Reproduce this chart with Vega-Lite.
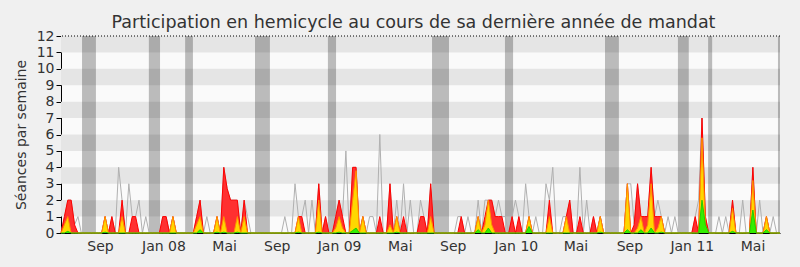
{
"$schema": "https://vega.github.io/schema/vega-lite/v6.json",
"autosize": {"type": "none"},
"width": 719,
"height": 197,
"padding": {"left": 61, "top": 36, "right": 20, "bottom": 34},
"background": "#f0f0f0",
"title": {"text": "Participation en hemicycle au cours de sa dernière année de mandat", "font": "DejaVu Sans", "fontSize": 17.5, "fontWeight": "normal", "color": "#333333", "anchor": "middle", "baseline": "alphabetic", "offset": -16, "dx": -7},
"config": {
  "view": {"fill": "#fafafa", "stroke": null},
  "font": "DejaVu Sans",
  "axisY": {"labelOverlap": false, "labelBound": false, "labelFlush": false, "grid": false, "domainColor": "#000000", "tickColor": "#000000", "tickSize": 5, "labelFontSize": 14, "labelColor": "#333333", "labelPadding": 2, "titleFontSize": 14, "titleFontWeight": "normal", "titleColor": "#333333", "titlePadding": 8, "zindex": 1},
  "axisX": {"labelOverlap": false, "grid": false, "ticks": false, "domainColor": "#000000", "labelFontSize": 14, "labelColor": "#333333", "labelPadding": 6, "zindex": 1}
},
"datasets": {
"bandes": [{"bas":1,"haut":2},{"bas":3,"haut":4},{"bas":5,"haut":6},{"bas":7,"haut":8},{"bas":9,"haut":10},{"bas":11,"haut":12}],
"sommet": [{"niveau": 12}],
"vacances": [{"debut":6.2,"fin":10.3},{"debut":25.9,"fin":29.2},{"debut":36.6,"fin":38.9},{"debut":57.2,"fin":61.6},{"debut":78.7,"fin":81.1},{"debut":109.4,"fin":114.4},{"debut":130.9,"fin":133.3},{"debut":160.4,"fin":164.5},{"debut":181.9,"fin":185.1},{"debut":190.8,"fin":192},{"debut":211.4,"fin":212}],
"semaines": [
{"sem":0,"seances":0,"pres":0,"part":0,"interv":0},
{"sem":1,"seances":1,"pres":1,"part":0.5,"interv":0},
{"sem":2,"seances":2,"pres":2,"part":1,"interv":0.1},
{"sem":3,"seances":2,"pres":2,"part":0,"interv":0},
{"sem":4,"seances":0.5,"pres":0.5,"part":0,"interv":0},
{"sem":5,"seances":1,"pres":0,"part":0,"interv":0},
{"sem":6,"seances":0,"pres":0,"part":0,"interv":0},
{"sem":7,"seances":0,"pres":0,"part":0,"interv":0},
{"sem":8,"seances":0,"pres":0,"part":0,"interv":0},
{"sem":9,"seances":0,"pres":0,"part":0,"interv":0},
{"sem":10,"seances":0,"pres":0,"part":0,"interv":0},
{"sem":11,"seances":0,"pres":0,"part":0,"interv":0},
{"sem":12,"seances":0,"pres":0,"part":0,"interv":0},
{"sem":13,"seances":1,"pres":1,"part":1,"interv":0.05},
{"sem":14,"seances":0,"pres":0,"part":0,"interv":0},
{"sem":15,"seances":1,"pres":1,"part":0,"interv":0},
{"sem":16,"seances":0,"pres":0,"part":0,"interv":0},
{"sem":17,"seances":4,"pres":0,"part":0,"interv":0},
{"sem":18,"seances":2,"pres":2,"part":1,"interv":0},
{"sem":19,"seances":0,"pres":0,"part":0,"interv":0},
{"sem":20,"seances":3,"pres":0,"part":0,"interv":0},
{"sem":21,"seances":1,"pres":1,"part":0,"interv":0},
{"sem":22,"seances":1,"pres":1,"part":0,"interv":0},
{"sem":23,"seances":2,"pres":0,"part":0,"interv":0},
{"sem":24,"seances":0,"pres":0,"part":0,"interv":0},
{"sem":25,"seances":1,"pres":0,"part":0,"interv":0},
{"sem":26,"seances":0,"pres":0,"part":0,"interv":0},
{"sem":27,"seances":0,"pres":0,"part":0,"interv":0},
{"sem":28,"seances":0,"pres":0,"part":0,"interv":0},
{"sem":29,"seances":0,"pres":0,"part":0,"interv":0},
{"sem":30,"seances":1,"pres":1,"part":0,"interv":0},
{"sem":31,"seances":1,"pres":1,"part":0,"interv":0},
{"sem":32,"seances":0,"pres":0,"part":0,"interv":0},
{"sem":33,"seances":1,"pres":1,"part":1,"interv":0},
{"sem":34,"seances":0,"pres":0,"part":0,"interv":0},
{"sem":35,"seances":0,"pres":0,"part":0,"interv":0},
{"sem":36,"seances":0,"pres":0,"part":0,"interv":0},
{"sem":37,"seances":0,"pres":0,"part":0,"interv":0},
{"sem":38,"seances":0,"pres":0,"part":0,"interv":0},
{"sem":39,"seances":0,"pres":0,"part":0,"interv":0},
{"sem":40,"seances":1,"pres":1,"part":0.5,"interv":0},
{"sem":41,"seances":2,"pres":2,"part":1,"interv":0.2},
{"sem":42,"seances":0,"pres":0,"part":0,"interv":0},
{"sem":43,"seances":1,"pres":0,"part":0,"interv":0},
{"sem":44,"seances":0,"pres":0,"part":0,"interv":0},
{"sem":45,"seances":0,"pres":0,"part":0,"interv":0},
{"sem":46,"seances":1,"pres":1,"part":1,"interv":0.05},
{"sem":47,"seances":0,"pres":0,"part":0,"interv":0},
{"sem":48,"seances":4,"pres":4,"part":1,"interv":0.05},
{"sem":49,"seances":2.7,"pres":2.7,"part":0,"interv":0},
{"sem":50,"seances":2,"pres":2,"part":0,"interv":0},
{"sem":51,"seances":2,"pres":2,"part":0,"interv":0},
{"sem":52,"seances":2,"pres":2,"part":1,"interv":0.05},
{"sem":53,"seances":0,"pres":0,"part":0,"interv":0},
{"sem":54,"seances":2,"pres":2,"part":1,"interv":0},
{"sem":55,"seances":1,"pres":0,"part":0,"interv":0},
{"sem":56,"seances":0,"pres":0,"part":0,"interv":0},
{"sem":57,"seances":0,"pres":0,"part":0,"interv":0},
{"sem":58,"seances":0,"pres":0,"part":0,"interv":0},
{"sem":59,"seances":0,"pres":0,"part":0,"interv":0},
{"sem":60,"seances":0,"pres":0,"part":0,"interv":0},
{"sem":61,"seances":0,"pres":0,"part":0,"interv":0},
{"sem":62,"seances":0,"pres":0,"part":0,"interv":0},
{"sem":63,"seances":0,"pres":0,"part":0,"interv":0},
{"sem":64,"seances":0,"pres":0,"part":0,"interv":0},
{"sem":65,"seances":0,"pres":0,"part":0,"interv":0},
{"sem":66,"seances":1,"pres":0,"part":0,"interv":0},
{"sem":67,"seances":0,"pres":0,"part":0,"interv":0},
{"sem":68,"seances":0,"pres":0,"part":0,"interv":0},
{"sem":69,"seances":3,"pres":0,"part":0,"interv":0},
{"sem":70,"seances":1,"pres":1,"part":1,"interv":0.05},
{"sem":71,"seances":1,"pres":1,"part":0,"interv":0},
{"sem":72,"seances":2,"pres":0,"part":0,"interv":0},
{"sem":73,"seances":0,"pres":0,"part":0,"interv":0},
{"sem":74,"seances":2,"pres":0,"part":0,"interv":0},
{"sem":75,"seances":0,"pres":0,"part":0,"interv":0},
{"sem":76,"seances":3,"pres":3,"part":2,"interv":0.05},
{"sem":77,"seances":0,"pres":0,"part":0,"interv":0},
{"sem":78,"seances":1,"pres":1,"part":0,"interv":0},
{"sem":79,"seances":0,"pres":0,"part":0,"interv":0},
{"sem":80,"seances":0,"pres":0,"part":0,"interv":0},
{"sem":81,"seances":1,"pres":1,"part":0.3,"interv":0},
{"sem":82,"seances":2,"pres":2,"part":1,"interv":0.05},
{"sem":83,"seances":1,"pres":1,"part":0.3,"interv":0},
{"sem":84,"seances":5,"pres":0,"part":0,"interv":0},
{"sem":85,"seances":0,"pres":0,"part":0,"interv":0},
{"sem":86,"seances":4,"pres":4,"part":2,"interv":0.15},
{"sem":87,"seances":4,"pres":4,"part":3.8,"interv":0.3},
{"sem":88,"seances":0,"pres":0,"part":0,"interv":0},
{"sem":89,"seances":1,"pres":1,"part":1,"interv":0},
{"sem":90,"seances":0,"pres":0,"part":0,"interv":0},
{"sem":91,"seances":1,"pres":0,"part":0,"interv":0},
{"sem":92,"seances":1,"pres":0,"part":0,"interv":0},
{"sem":93,"seances":0,"pres":0,"part":0,"interv":0},
{"sem":94,"seances":6,"pres":1,"part":0,"interv":0},
{"sem":95,"seances":0,"pres":0,"part":0,"interv":0},
{"sem":96,"seances":0,"pres":0,"part":0,"interv":0},
{"sem":97,"seances":3,"pres":3,"part":0.5,"interv":0},
{"sem":98,"seances":0,"pres":0,"part":0,"interv":0},
{"sem":99,"seances":2,"pres":1,"part":1,"interv":0.05},
{"sem":100,"seances":0,"pres":0,"part":0,"interv":0},
{"sem":101,"seances":3,"pres":1,"part":0,"interv":0},
{"sem":102,"seances":0,"pres":0,"part":0,"interv":0},
{"sem":103,"seances":2,"pres":0,"part":0,"interv":0},
{"sem":104,"seances":0,"pres":0,"part":0,"interv":0},
{"sem":105,"seances":0,"pres":0,"part":0,"interv":0},
{"sem":106,"seances":2,"pres":1,"part":0,"interv":0},
{"sem":107,"seances":1,"pres":1,"part":0,"interv":0},
{"sem":108,"seances":0,"pres":0,"part":0,"interv":0},
{"sem":109,"seances":3,"pres":3,"part":1,"interv":0},
{"sem":110,"seances":0,"pres":0,"part":0,"interv":0},
{"sem":111,"seances":0,"pres":0,"part":0,"interv":0},
{"sem":112,"seances":0,"pres":0,"part":0,"interv":0},
{"sem":113,"seances":0,"pres":0,"part":0,"interv":0},
{"sem":114,"seances":0,"pres":0,"part":0,"interv":0},
{"sem":115,"seances":0,"pres":0,"part":0,"interv":0},
{"sem":116,"seances":0,"pres":0,"part":0,"interv":0},
{"sem":117,"seances":1,"pres":0,"part":0,"interv":0},
{"sem":118,"seances":1,"pres":1,"part":0,"interv":0},
{"sem":119,"seances":0,"pres":0,"part":0,"interv":0},
{"sem":120,"seances":1,"pres":0,"part":0,"interv":0},
{"sem":121,"seances":0,"pres":0,"part":0,"interv":0},
{"sem":122,"seances":0,"pres":0,"part":0,"interv":0},
{"sem":123,"seances":2,"pres":1,"part":1,"interv":0.2},
{"sem":124,"seances":0,"pres":0,"part":0,"interv":0},
{"sem":125,"seances":2,"pres":1,"part":0.5,"interv":0},
{"sem":126,"seances":2,"pres":2,"part":2,"interv":0.3},
{"sem":127,"seances":2,"pres":2,"part":0.5,"interv":0},
{"sem":128,"seances":1,"pres":1,"part":0,"interv":0},
{"sem":129,"seances":2,"pres":1,"part":0,"interv":0},
{"sem":130,"seances":1,"pres":1,"part":0,"interv":0},
{"sem":131,"seances":1,"pres":0,"part":0,"interv":0},
{"sem":132,"seances":0,"pres":0,"part":0,"interv":0},
{"sem":133,"seances":1,"pres":1,"part":0,"interv":0},
{"sem":134,"seances":2,"pres":0,"part":0,"interv":0},
{"sem":135,"seances":1,"pres":1,"part":0,"interv":0},
{"sem":136,"seances":0,"pres":0,"part":0,"interv":0},
{"sem":137,"seances":3,"pres":0,"part":0,"interv":0},
{"sem":138,"seances":1,"pres":1,"part":1,"interv":0.4},
{"sem":139,"seances":0,"pres":0,"part":0,"interv":0},
{"sem":140,"seances":1,"pres":0,"part":0,"interv":0},
{"sem":141,"seances":0,"pres":0,"part":0,"interv":0},
{"sem":142,"seances":0,"pres":0,"part":0,"interv":0},
{"sem":143,"seances":3,"pres":0,"part":0,"interv":0},
{"sem":144,"seances":2,"pres":2,"part":1,"interv":0},
{"sem":145,"seances":4,"pres":0,"part":0,"interv":0},
{"sem":146,"seances":0,"pres":0,"part":0,"interv":0},
{"sem":147,"seances":0,"pres":0,"part":0,"interv":0},
{"sem":148,"seances":1,"pres":0,"part":0,"interv":0},
{"sem":149,"seances":1,"pres":1,"part":1,"interv":0},
{"sem":150,"seances":2,"pres":2,"part":0,"interv":0},
{"sem":151,"seances":0,"pres":0,"part":0,"interv":0},
{"sem":152,"seances":0,"pres":0,"part":0,"interv":0},
{"sem":153,"seances":4,"pres":1,"part":0,"interv":0},
{"sem":154,"seances":0,"pres":0,"part":0,"interv":0},
{"sem":155,"seances":2,"pres":0,"part":0,"interv":0},
{"sem":156,"seances":0,"pres":0,"part":0,"interv":0},
{"sem":157,"seances":1,"pres":1,"part":0,"interv":0},
{"sem":158,"seances":0,"pres":0,"part":0,"interv":0},
{"sem":159,"seances":1,"pres":1,"part":1,"interv":0.05},
{"sem":160,"seances":0,"pres":0,"part":0,"interv":0},
{"sem":161,"seances":0,"pres":0,"part":0,"interv":0},
{"sem":162,"seances":0,"pres":0,"part":0,"interv":0},
{"sem":163,"seances":0,"pres":0,"part":0,"interv":0},
{"sem":164,"seances":0,"pres":0,"part":0,"interv":0},
{"sem":165,"seances":0,"pres":0,"part":0,"interv":0},
{"sem":166,"seances":0,"pres":0,"part":0,"interv":0},
{"sem":167,"seances":3,"pres":3,"part":3,"interv":0.2},
{"sem":168,"seances":3,"pres":0,"part":0,"interv":0},
{"sem":169,"seances":0.5,"pres":0.5,"part":0,"interv":0},
{"sem":170,"seances":3,"pres":3,"part":0.3,"interv":0},
{"sem":171,"seances":1,"pres":1,"part":1,"interv":0.2},
{"sem":172,"seances":1,"pres":1,"part":0,"interv":0},
{"sem":173,"seances":1,"pres":1,"part":0.5,"interv":0},
{"sem":174,"seances":4,"pres":4,"part":3,"interv":0.3},
{"sem":175,"seances":1,"pres":1,"part":0,"interv":0},
{"sem":176,"seances":2,"pres":1,"part":0.3,"interv":0},
{"sem":177,"seances":1,"pres":1,"part":1,"interv":0.05},
{"sem":178,"seances":0,"pres":0,"part":0,"interv":0},
{"sem":179,"seances":1,"pres":0,"part":0,"interv":0},
{"sem":180,"seances":0,"pres":0,"part":0,"interv":0},
{"sem":181,"seances":1,"pres":0,"part":0,"interv":0},
{"sem":182,"seances":0,"pres":0,"part":0,"interv":0},
{"sem":183,"seances":0,"pres":0,"part":0,"interv":0},
{"sem":184,"seances":0,"pres":0,"part":0,"interv":0},
{"sem":185,"seances":0,"pres":0,"part":0,"interv":0},
{"sem":186,"seances":0,"pres":0,"part":0,"interv":0},
{"sem":187,"seances":1,"pres":1,"part":0,"interv":0},
{"sem":188,"seances":2,"pres":0,"part":0,"interv":0},
{"sem":189,"seances":7,"pres":7,"part":5.8,"interv":2},
{"sem":190,"seances":1,"pres":1,"part":0.5,"interv":0.5},
{"sem":191,"seances":0,"pres":0,"part":0,"interv":0},
{"sem":192,"seances":0,"pres":0,"part":0,"interv":0},
{"sem":193,"seances":0,"pres":0,"part":0,"interv":0},
{"sem":194,"seances":1,"pres":0,"part":0,"interv":0},
{"sem":195,"seances":0,"pres":0,"part":0,"interv":0},
{"sem":196,"seances":1,"pres":0,"part":0,"interv":0},
{"sem":197,"seances":0,"pres":0,"part":0,"interv":0},
{"sem":198,"seances":2,"pres":2,"part":1.5,"interv":0.1},
{"sem":199,"seances":0,"pres":0,"part":0,"interv":0},
{"sem":200,"seances":0,"pres":0,"part":0,"interv":0},
{"sem":201,"seances":2,"pres":0,"part":0,"interv":0},
{"sem":202,"seances":0,"pres":0,"part":0,"interv":0},
{"sem":203,"seances":0,"pres":0,"part":0,"interv":0},
{"sem":204,"seances":4,"pres":4,"part":3.2,"interv":1.4},
{"sem":205,"seances":0,"pres":0,"part":0,"interv":0},
{"sem":206,"seances":2,"pres":0,"part":0,"interv":0},
{"sem":207,"seances":0,"pres":0,"part":0,"interv":0},
{"sem":208,"seances":1,"pres":1,"part":1,"interv":0.2},
{"sem":209,"seances":0,"pres":0,"part":0,"interv":0},
{"sem":210,"seances":1,"pres":0,"part":0,"interv":0},
{"sem":211,"seances":0,"pres":0,"part":0,"interv":0},
{"sem":212,"seances":0,"pres":0,"part":0,"interv":0}
]
},
"layer": [
{"data": {"name": "bandes"}, "mark": {"type": "rect", "color": "#e5e5e5"},
 "encoding": {
  "y": {"field": "bas", "type": "quantitative", "scale": {"domain": [0, 12], "nice": false}, "title": "Séances par semaine", "axis": {"values": [0,1,2,3,4,5,6,7,8,9,10,11,12], "labelOverlap": false, "tickCount": 13}},
  "y2": {"field": "haut"}}},
{"data": {"name": "vacances"}, "mark": {"type": "rect", "color": "#000000", "opacity": 0.25},
 "encoding": {
  "x": {"field": "debut", "type": "quantitative", "scale": {"domain": [0, 212], "nice": false, "zero": false}, "title": null,
        "axis": {"values": [11.5, 30.2, 48.1, 63.6, 82.0, 99.9, 115.5, 134.1, 151.7, 167.6, 186.0, 203.9],
                 "labelExpr": "datum.value < 20 ? 'Sep' : datum.value < 40 ? 'Jan 08' : datum.value < 55 ? 'Mai' : datum.value < 70 ? 'Sep' : datum.value < 90 ? 'Jan 09' : datum.value < 107 ? 'Mai' : datum.value < 125 ? 'Sep' : datum.value < 140 ? 'Jan 10' : datum.value < 160 ? 'Mai' : datum.value < 175 ? 'Sep' : datum.value < 195 ? 'Jan 11' : 'Mai'"}},
  "x2": {"field": "fin"}}},
{"data": {"name": "sommet"}, "mark": {"type": "rule", "color": "#000000", "strokeDash": [1, 2], "strokeWidth": 1},
 "encoding": {"y": {"field": "niveau", "type": "quantitative", "title": "Séances par semaine", "axis": {"values": [0,1,2,3,4,5,6,7,8,9,10,11,12], "labelOverlap": false, "tickCount": 13}}}},
{"data": {"name": "semaines"}, "mark": {"type": "line", "color": "#b0b0b0", "strokeWidth": 1},
 "encoding": {"x": {"field": "sem", "type": "quantitative", "title": null}, "y": {"field": "seances", "type": "quantitative", "title": "Séances par semaine", "axis": {"values": [0,1,2,3,4,5,6,7,8,9,10,11,12], "labelOverlap": false, "tickCount": 13}}}},
{"data": {"name": "semaines"}, "mark": {"type": "area", "fill": "#ff3030", "fillOpacity": 1, "opacity": 1, "line": {"color": "#ff0000", "strokeWidth": 1}},
 "encoding": {"x": {"field": "sem", "type": "quantitative", "title": null}, "y": {"field": "pres", "type": "quantitative", "title": "Séances par semaine", "axis": {"values": [0,1,2,3,4,5,6,7,8,9,10,11,12], "labelOverlap": false, "tickCount": 13}}}},
{"data": {"name": "semaines"}, "mark": {"type": "area", "fill": "#ffd700", "fillOpacity": 1, "opacity": 1, "line": {"color": "#ff9000", "strokeWidth": 1}},
 "encoding": {"x": {"field": "sem", "type": "quantitative", "title": null}, "y": {"field": "part", "type": "quantitative", "title": "Séances par semaine", "axis": {"values": [0,1,2,3,4,5,6,7,8,9,10,11,12], "labelOverlap": false, "tickCount": 13}}}},
{"data": {"name": "semaines"}, "mark": {"type": "area", "fill": "#33ee00", "fillOpacity": 1, "opacity": 1, "line": {"color": "#22cc00", "strokeWidth": 1}},
 "encoding": {"x": {"field": "sem", "type": "quantitative", "title": null}, "y": {"field": "interv", "type": "quantitative", "title": "Séances par semaine", "axis": {"values": [0,1,2,3,4,5,6,7,8,9,10,11,12], "labelOverlap": false, "tickCount": 13}}}}
]
}
